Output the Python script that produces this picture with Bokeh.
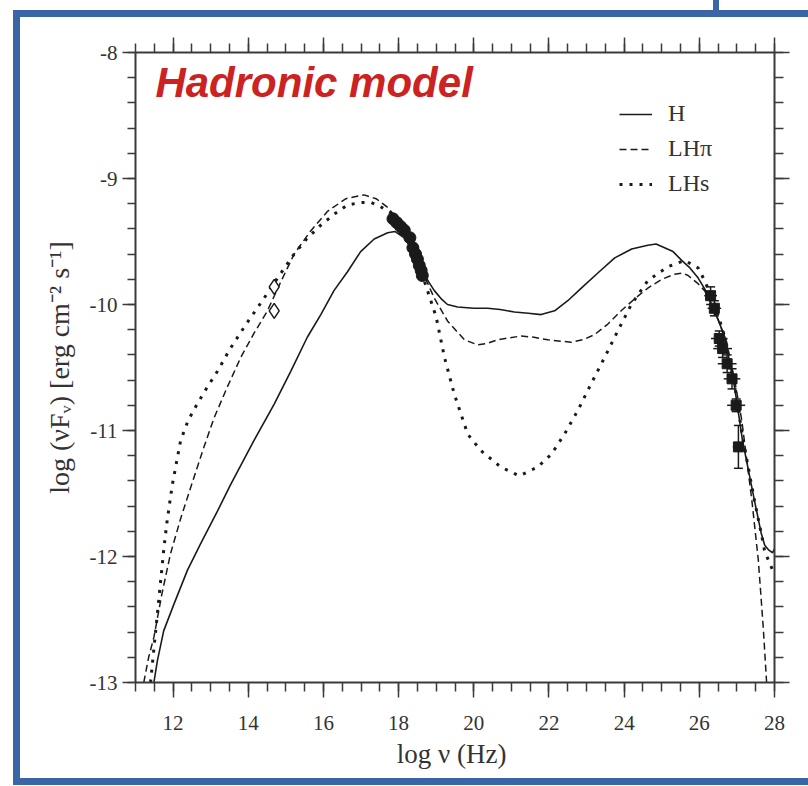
import numpy as np
from bokeh.plotting import figure
from bokeh.layouts import column, row
from bokeh.models import (LinearAxis, FixedTicker, Legend, LegendItem, Label,
                          ColumnDataSource, Whisker, TeeHead, Range1d, Spacer,
                          CustomJSTickFormatter)
from bokeh.embed import file_html
from bokeh.resources import INLINE

# ---------------- data ----------------
h_x = [11.49, 11.58, 11.75, 12.02, 12.38, 12.73, 13.18, 13.53, 14.15, 14.69, 15.13,
       15.57, 15.93, 16.28, 16.64, 16.99, 17.35, 17.71, 17.90, 18.15, 18.35, 18.59,
       18.80, 18.95, 19.15, 19.30, 19.57, 20.00, 20.37, 20.70, 21.08, 21.45, 21.79,
       22.15, 22.50, 22.86, 23.30, 23.75, 24.20, 24.63, 24.85, 25.00, 25.30, 25.53,
       25.75, 25.97, 26.15, 26.32, 26.50, 26.68, 26.94, 27.15, 27.47, 27.65, 27.74,
       27.85, 27.95, 28.00]
h_y = [-13.00, -12.83, -12.59, -12.38, -12.11, -11.90, -11.64, -11.43, -11.08, -10.79,
       -10.53, -10.26, -10.08, -9.89, -9.74, -9.58, -9.48, -9.43, -9.42, -9.47, -9.56,
       -9.71, -9.82, -9.89, -9.96, -10.00, -10.02, -10.03, -10.03, -10.04, -10.06,
       -10.07, -10.08, -10.05, -9.97, -9.87, -9.75, -9.63, -9.56, -9.53, -9.52, -9.54,
       -9.58, -9.65, -9.71, -9.79, -9.88, -10.00, -10.12, -10.26, -10.66, -11.08,
       -11.56, -11.82, -11.91, -11.95, -11.97, -11.94]

lhpi_x = [11.22, 11.35, 11.49, 11.70, 11.93, 12.20, 12.47, 12.80, 13.09, 13.45, 13.80,
          14.15, 14.51, 14.85, 15.22, 15.65, 16.11, 16.60, 17.08, 17.40, 17.71, 17.88,
          18.10, 18.35, 18.59, 18.95, 19.30, 19.75, 20.10, 20.35, 20.63, 21.26, 21.60,
          21.97, 22.59, 22.90, 23.21, 23.55, 23.92, 24.30, 24.63, 25.00, 25.34, 25.55,
          25.70, 25.95, 26.14, 26.41, 26.60, 26.77, 26.95, 27.13, 27.40, 27.57, 27.70,
          27.79]
lhpi_y = [-13.00, -12.80, -12.64, -12.30, -11.98, -11.70, -11.45, -11.15, -10.90,
          -10.65, -10.42, -10.23, -10.05, -9.83, -9.60, -9.42, -9.26, -9.16, -9.13,
          -9.16, -9.23, -9.29, -9.38, -9.53, -9.71, -9.95, -10.13, -10.28, -10.32,
          -10.31, -10.28, -10.25, -10.26, -10.28, -10.30, -10.28, -10.24, -10.16,
          -10.05, -9.95, -9.87, -9.80, -9.76, -9.75, -9.77, -9.83, -9.89, -10.05,
          -10.20, -10.37, -10.62, -10.92, -11.56, -12.03, -12.56, -13.00]

lhs_x = [11.40, 11.50, 11.60, 11.67, 11.75, 11.84, 11.98, 12.20, 12.40, 12.64, 12.90,
         13.18, 13.50, 13.89, 14.42, 14.80, 15.22, 15.55, 15.93, 16.30, 16.64, 17.00,
         17.26, 17.50, 17.71, 17.90, 18.20, 18.45, 18.68, 19.00, 19.22, 19.48, 19.84,
         20.19, 20.72, 21.21, 21.70, 22.06, 22.41, 22.77, 23.12, 23.48, 23.83, 24.19,
         24.63, 25.16, 25.61, 25.97, 26.14, 26.41, 26.68, 26.94, 27.15, 27.47, 27.65,
         27.74, 27.88, 28.00]
lhs_y = [-13.00, -12.70, -12.40, -12.19, -11.95, -11.72, -11.43, -11.08, -10.92, -10.79,
         -10.66, -10.53, -10.36, -10.18, -9.95, -9.78, -9.60, -9.48, -9.37, -9.28,
         -9.21, -9.19, -9.19, -9.22, -9.26, -9.29, -9.43, -9.60, -9.81, -10.10, -10.42,
         -10.71, -11.03, -11.16, -11.29, -11.36, -11.29, -11.19, -11.03, -10.84,
         -10.63, -10.42, -10.21, -10.00, -9.81, -9.70, -9.65, -9.71, -9.81, -10.00,
         -10.26, -10.64, -11.05, -11.56, -11.82, -11.96, -12.06, -12.14]

xray_x = [17.85, 17.95, 18.05, 18.15, 18.30, 18.38, 18.45, 18.50, 18.55, 18.60, 18.63]
xray_y = [-9.32, -9.35, -9.38, -9.41, -9.47, -9.55, -9.60, -9.64, -9.69, -9.73, -9.77]

opt_x = [14.69, 14.69]
opt_y = [-9.86, -10.05]

gam_x = [26.30, 26.40, 26.53, 26.62, 26.74, 26.87, 26.98, 27.04]
gam_y = [-9.93, -10.03, -10.27, -10.35, -10.47, -10.59, -10.80, -11.13]
gam_xerr = [0.17, 0.18, 0.22, 0.25, 0.25, 0.22, 0.24, 0.15]
gam_yerr = [0.07, 0.06, 0.06, 0.07, 0.07, 0.08, 0.05, 0.17]

x_major = [12, 14, 16, 18, 20, 22, 24, 26, 28]
x_minor = [v / 2 for v in range(22, 57)]
y_major = [-13, -12, -11, -10, -9, -8]
y_minor = [round(-13 + 0.2 * i, 1) for i in range(26)]

legend_labels = ["H", "LHπ", "LHs"]
title_text = "Hadronic model"
x_label = "log ν  (Hz)"
y_label = "log (νFᵥ) [erg cm⁻² s⁻¹]"

# ---------------- figure ----------------
BLUE = "#3a66a8"
AX = "#3a3a3a"
SERIF = "Liberation Serif"

p = figure(width=788, height=761, x_range=Range1d(11, 28), y_range=Range1d(-13, -8),
           output_backend="svg", toolbar_location=None,
           x_axis_location=None, y_axis_location=None,
           min_border_left=115, min_border_right=34, min_border_top=35,
           min_border_bottom=96)
p.outline_line_color = None
p.grid.visible = False
p.background_fill_color = "white"
p.border_fill_color = "white"

blank = CustomJSTickFormatter(code="return ''")
hyphen = CustomJSTickFormatter(code="return tick.toFixed(0)")


def make_axis(ticks, minor, labels):
    ax = LinearAxis(ticker=FixedTicker(ticks=ticks, minor_ticks=minor))
    ax.axis_line_color = AX
    ax.axis_line_width = 2
    ax.major_tick_line_color = AX
    ax.major_tick_line_width = 1.5
    ax.minor_tick_line_color = AX
    ax.minor_tick_line_width = 1.5
    ax.major_tick_in = 0
    ax.major_tick_out = 15
    ax.minor_tick_in = 0
    ax.minor_tick_out = 9
    ax.major_label_text_font = SERIF
    ax.major_label_text_font_size = "21px"
    ax.major_label_text_color = "#333333"
    ax.axis_label_text_font = SERIF
    ax.axis_label_text_font_style = "normal"
    ax.axis_label_text_color = "#333333"
    ax.formatter = hyphen if labels else blank
    return ax


xb = make_axis(x_major, x_minor, True)
xb.axis_label = x_label
xb.axis_label_text_font_size = "27px"
xb.major_label_standoff = 18
xb.axis_label_standoff = 6
yl = make_axis(y_major, y_minor, True)
yl.axis_label = y_label
yl.axis_label_text_font_size = "28px"
yl.major_tick_out = 13
yl.minor_tick_out = 8
yl.major_label_standoff = 5
yl.axis_label_standoff = 12
xt = make_axis(x_major, x_minor, False)
yr = make_axis(y_major, y_minor, False)
p.add_layout(xb, "below")
p.add_layout(yl, "left")
p.add_layout(xt, "above")
p.add_layout(yr, "right")

INK = "#1a1a1a"
r_h = p.line(h_x, h_y, line_color=INK, line_width=1.6)
r_pi = p.line(lhpi_x, lhpi_y, line_color=INK, line_width=1.5, line_dash="7 4")
r_s = p.line(lhs_x, lhs_y, line_color=INK, line_width=3, line_dash="3 7")

# data points
p.scatter(opt_x, opt_y, marker="diamond", size=15, line_color=INK, line_width=1.5,
          fill_color="white")
p.scatter(xray_x, xray_y, marker="circle", size=12, line_color=INK, fill_color=INK)

gx = np.array(gam_x); gy = np.array(gam_y)
gxe = np.array(gam_xerr); gye = np.array(gam_yerr)
src = ColumnDataSource(dict(x=gx, y=gy, xl=gx - gxe, xu=gx + gxe,
                            yl=gy - gye, yu=gy + gye))
p.segment(x0="xl", y0="y", x1="xu", y1="y", source=src, line_color=INK, line_width=1.5)
p.add_layout(Whisker(base="x", lower="yl", upper="yu", source=src, dimension="height",
                     line_color=INK, line_width=1.5,
                     lower_head=TeeHead(size=9, line_color=INK, line_width=1.5),
                     upper_head=TeeHead(size=9, line_color=INK, line_width=1.5)))
p.scatter("x", "y", source=src, marker="square", size=10, line_color=INK, fill_color=INK)

# legend
legend = Legend(items=[LegendItem(label=legend_labels[0], renderers=[r_h]),
                       LegendItem(label=legend_labels[1], renderers=[r_pi]),
                       LegendItem(label=legend_labels[2], renderers=[r_s])],
                location=(484, 485), padding=0, margin=0, spacing=8,
                glyph_width=33, glyph_height=24, label_height=24,
                label_standoff=16, border_line_color=None,
                background_fill_color=None,
                label_text_font=SERIF, label_text_font_size="24px",
                label_text_color="#333333")
p.add_layout(legend, "center")

# title
p.add_layout(Label(x=11.53, y=-8.235, text=title_text, text_font="Liberation Sans",
                   text_font_style="bold italic", text_font_size="42px",
                   text_color="#cc2222", text_baseline="alphabetic"))

# blue slide frame around the chart (page has no body margin)
blue = {"background-color": BLUE}
stub_row = row(Spacer(width=713, height=10), Spacer(width=6, height=10, styles=blue),
               Spacer(width=89, height=10), spacing=0)
top_band = row(Spacer(width=13, height=7),
               Spacer(width=795, height=7, styles=blue), spacing=0)
mid = row(Spacer(width=13, height=761), Spacer(width=7, height=761, styles=blue), p,
          spacing=0)
bot_band = row(Spacer(width=13, height=7),
               Spacer(width=795, height=7, styles=blue), spacing=0)
page = column(stub_row, top_band, mid, bot_band, spacing=0)

open("out.html", "w").write(file_html(page, INLINE))
